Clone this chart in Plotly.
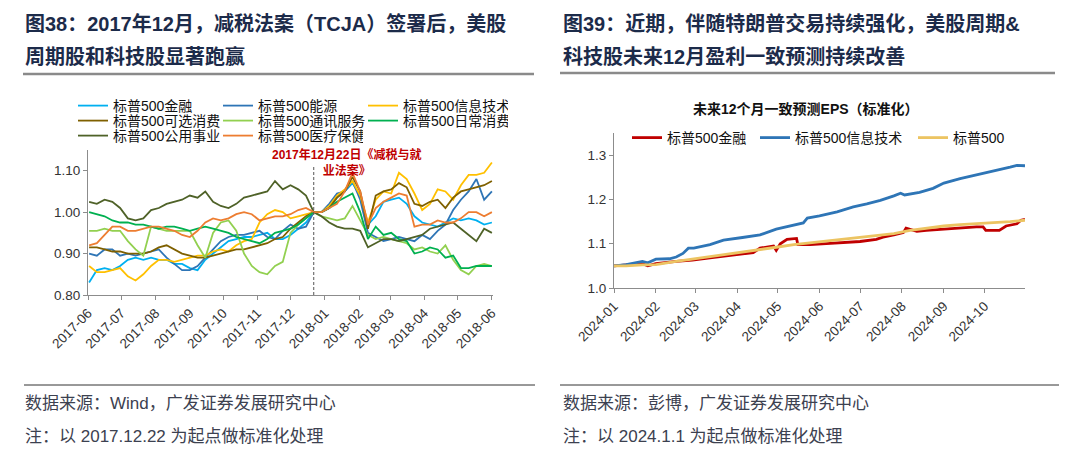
import plotly.graph_objects as go
import pandas as pd

W, H = 1080, 452
F = "Liberation Sans, Noto Sans CJK SC, sans-serif"

# ---------------- left panel data (weekly Friday closes, normalised on 2017-12-22)
left_dates = pd.date_range(start="2017-06-02", periods=53, freq="7D")
left_names = ["标普500金融", "标普500能源", "标普500信息技术",
              "标普500可选消费", "标普500通讯服务", "标普500日常消费",
              "标普500公用事业", "标普500医疗保健"]
fin_l = [0.83, 0.86, 0.865, 0.86, 0.87, 0.885, 0.89, 0.885, 0.89, 0.885,
         0.885, 0.875, 0.875, 0.865, 0.86, 0.885, 0.90, 0.915, 0.93, 0.935,
         0.94, 0.94, 0.945, 0.95, 0.935, 0.935, 0.945, 0.96, 0.975, 1.00,
         1.00, 1.01, 1.035, 1.05, 1.07, 1.04, 0.97, 0.99, 1.025, 1.03,
         1.035, 1.02, 0.99, 0.975, 0.97, 0.965, 0.975, 0.985, 0.98, 0.985,
         0.98, 0.97, 0.975]
energy = [0.90, 0.895, 0.91, 0.91, 0.895, 0.90, 0.895, 0.90, 0.905, 0.91,
          0.89, 0.875, 0.86, 0.86, 0.87, 0.89, 0.91, 0.93, 0.94, 0.945,
          0.945, 0.95, 0.955, 0.94, 0.935, 0.955, 0.97, 0.96, 0.965, 1.00,
          1.00, 1.02, 1.045, 1.05, 1.075, 1.03, 0.95, 0.94, 0.93, 0.935,
          0.94, 0.935, 0.93, 0.945, 0.935, 0.955, 0.97, 1.005, 1.03, 1.05,
          1.08, 1.03, 1.05]
tech_l = [0.87, 0.855, 0.855, 0.86, 0.865, 0.845, 0.835, 0.85, 0.87, 0.885,
          0.885, 0.88, 0.885, 0.89, 0.895, 0.895, 0.905, 0.91, 0.905, 0.92,
          0.93, 0.935, 0.975, 0.995, 1.005, 1.00, 0.985, 0.99, 0.995, 1.00,
          1.00, 1.015, 1.04, 1.055, 1.075, 1.04, 0.975, 1.03, 1.05, 1.045,
          1.095, 1.08, 1.045, 1.005, 1.02, 1.055, 1.05, 1.03, 1.065, 1.09,
          1.09, 1.095, 1.12]
discr = [0.915, 0.915, 0.91, 0.905, 0.905, 0.90, 0.90, 0.90, 0.905, 0.915,
         0.92, 0.91, 0.90, 0.895, 0.89, 0.89, 0.895, 0.90, 0.905, 0.91,
         0.91, 0.915, 0.92, 0.925, 0.935, 0.94, 0.96, 0.975, 0.99, 1.00,
         1.00, 1.01, 1.035, 1.05, 1.085, 1.05, 0.96, 1.04, 1.05, 1.055,
         1.07, 1.06, 1.02, 1.015, 1.025, 1.03, 1.01, 1.035, 1.05, 1.055,
         1.06, 1.065, 1.075]
comm = [0.955, 0.955, 0.96, 0.955, 0.955, 0.93, 0.91, 0.895, 0.965, 0.96,
        0.955, 0.955, 0.955, 0.955, 0.92, 0.89, 0.95, 0.975, 0.98, 0.955,
        0.90, 0.87, 0.855, 0.85, 0.87, 0.88, 0.95, 0.97, 0.985, 1.00,
        0.99, 0.985, 0.98, 0.985, 1.015, 0.98, 0.945, 0.935, 0.94, 0.935,
        0.93, 0.925, 0.91, 0.915, 0.905, 0.90, 0.92, 0.885, 0.86, 0.85,
        0.87, 0.875, 0.87]
staples = [1.00, 0.995, 0.99, 0.98, 0.975, 0.975, 0.97, 0.97, 0.965, 0.96,
           0.965, 0.965, 0.96, 0.955, 0.96, 0.965, 0.96, 0.955, 0.95, 0.94,
           0.935, 0.93, 0.925, 0.935, 0.95, 0.955, 0.96, 0.97, 0.985, 1.00,
           1.00, 1.01, 1.025, 1.035, 1.045, 1.00, 0.935, 0.965, 0.945, 0.95,
           0.935, 0.93, 0.90, 0.905, 0.915, 0.91, 0.89, 0.895, 0.865, 0.865,
           0.87, 0.87, 0.87]
util = [1.025, 1.02, 1.03, 1.025, 1.01, 0.985, 0.98, 0.985, 1.005, 1.01,
        1.02, 1.025, 1.03, 1.04, 1.035, 1.05, 1.025, 1.015, 1.01, 1.02,
        1.035, 1.04, 1.045, 1.05, 1.075, 1.055, 1.065, 1.055, 1.04, 1.00,
        0.99, 0.975, 0.965, 0.96, 0.96, 0.955, 0.915, 0.925, 0.935, 0.935,
        0.93, 0.935, 0.94, 0.945, 0.96, 0.965, 0.97, 0.975, 0.96, 0.945,
        0.93, 0.96, 0.95]
health = [0.92, 0.925, 0.945, 0.965, 0.965, 0.955, 0.955, 0.96, 0.965, 0.965,
          0.96, 0.955, 0.945, 0.94, 0.955, 0.975, 0.985, 0.98, 0.985, 0.995,
          1.00, 0.995, 0.98, 0.985, 0.99, 0.99, 0.995, 1.005, 1.01, 1.00,
          1.00, 1.01, 1.02, 1.05, 1.095, 1.05, 0.97, 1.01, 1.025, 1.035,
          1.045, 1.04, 0.965, 0.97, 0.97, 0.98, 0.975, 0.975, 0.985, 1.00,
          1.00, 0.99, 1.00]
left_series = [fin_l, energy, tech_l, discr, comm, staples, util, health]
left_colors = ["#00b0f0", "#2e75b6", "#ffc000", "#7f6000",
               "#92d050", "#00b050", "#4f6228", "#ed7d31"]
left_legend_ids = ["legend", "legend", "legend", "legend2", "legend2", "legend2",
                   "legend3", "legend3"]

# ---------------- right panel data (forward 12m consensus EPS, normalised 2024-01-01)
right_names = ["标普500金融", "标普500信息技术", "标普500"]
fin_r_dates = ["2024-01-01", "2024-01-10", "2024-01-22", "2024-01-26", "2024-02-01",
               "2024-02-16", "2024-02-28", "2024-03-12", "2024-03-24", "2024-04-05",
               "2024-04-13", "2024-04-18", "2024-04-28", "2024-04-30", "2024-05-03",
               "2024-05-08", "2024-05-15", "2024-05-16", "2024-05-25", "2024-06-06",
               "2024-06-19", "2024-07-01", "2024-07-13", "2024-07-18", "2024-07-26",
               "2024-08-02", "2024-08-04", "2024-08-12", "2024-08-19", "2024-09-01",
               "2024-09-13", "2024-09-25", "2024-09-30", "2024-10-02", "2024-10-12",
               "2024-10-17", "2024-10-25", "2024-10-28", "2024-10-31"]
fin_r = [1.050, 1.052, 1.055, 1.050, 1.055, 1.060, 1.063, 1.068, 1.072, 1.077,
         1.080, 1.090, 1.095, 1.085, 1.100, 1.110, 1.112, 1.098, 1.098, 1.100,
         1.102, 1.105, 1.110, 1.115, 1.120, 1.125, 1.135, 1.128, 1.130, 1.133,
         1.135, 1.138, 1.138, 1.130, 1.130, 1.140, 1.145, 1.153, 1.155]
tech_r_dates = ["2024-01-01", "2024-01-10", "2024-01-22", "2024-01-26", "2024-02-01",
                "2024-02-11", "2024-02-16", "2024-02-21", "2024-02-25", "2024-02-29",
                "2024-03-12", "2024-03-22", "2024-04-05", "2024-04-18", "2024-04-30",
                "2024-05-06", "2024-05-13", "2024-05-20", "2024-05-23", "2024-06-01",
                "2024-06-14", "2024-06-26", "2024-07-06", "2024-07-16", "2024-07-26",
                "2024-07-31", "2024-08-03", "2024-08-14", "2024-08-24", "2024-09-01",
                "2024-09-13", "2024-09-25", "2024-10-08", "2024-10-20", "2024-10-25",
                "2024-10-31"]
tech_r = [1.050, 1.053, 1.060, 1.057, 1.065, 1.066, 1.070, 1.078, 1.090, 1.090,
          1.098, 1.108, 1.114, 1.120, 1.133, 1.137, 1.142, 1.147, 1.158, 1.163,
          1.172, 1.183, 1.190, 1.198, 1.208, 1.214, 1.210, 1.216, 1.225, 1.237,
          1.247, 1.255, 1.265, 1.273, 1.277, 1.276]
spx_dates = ["2024-01-01", "2024-01-10", "2024-01-22", "2024-02-01", "2024-02-16",
             "2024-02-28", "2024-03-12", "2024-03-24", "2024-04-05", "2024-04-18",
             "2024-04-30", "2024-05-13", "2024-05-25", "2024-06-06", "2024-06-19",
             "2024-07-01", "2024-07-13", "2024-07-26", "2024-08-07", "2024-08-19",
             "2024-09-01", "2024-09-13", "2024-09-25", "2024-10-08", "2024-10-20",
             "2024-10-31"]
spx = [1.050, 1.050, 1.052, 1.053, 1.060, 1.065, 1.070, 1.075, 1.080, 1.086,
       1.092, 1.098, 1.102, 1.106, 1.110, 1.115, 1.118, 1.123, 1.130, 1.135,
       1.140, 1.143, 1.145, 1.147, 1.150, 1.153]
right_colors = ["#c00000", "#2e75b6", "#ecc462"]

# ---------------- figure
fig = go.Figure()
for name, vals, col, lg in zip(left_names, left_series, left_colors, left_legend_ids):
    fig.add_trace(go.Scatter(x=left_dates, y=vals, name=name, mode="lines",
                             line=dict(color=col, width=1.8), xaxis="x", yaxis="y",
                             legend=lg, legendwidth=100))

right_data = [(fin_r_dates, fin_r, 83), (tech_r_dates, tech_r, 113), (spx_dates, spx, 80)]
for name, (d, v, lw), col in zip(right_names, right_data, right_colors):
    fig.add_trace(go.Scatter(x=d, y=v, name=name, mode="lines",
                             line=dict(color=col, width=2.8), xaxis="x2", yaxis="y2",
                             legend="legend4", legendwidth=lw))


def px(x):
    return x / W


def py(y):
    return 1 - y / H


axis_common = dict(showline=True, linecolor="#8c8c8c", linewidth=1, ticks="outside",
                   ticklen=4, tickcolor="#8c8c8c", showgrid=False, zeroline=False,
                   automargin=False,
                   tickfont=dict(size=13.5, family=F, color="#333333"))

leg_common = dict(orientation="h", xanchor="left", yanchor="middle",
                  font=dict(size=14, family=F, color="#111111"),
                  bgcolor="rgba(0,0,0,0)", borderwidth=0, itemwidth=30,
                  tracegroupgap=0, itemclick=False, itemdoubleclick=False)

fig.update_layout(
    template="none",
    width=W, height=H, margin=dict(l=0, r=0, t=0, b=0, autoexpand=False),
    paper_bgcolor="white", plot_bgcolor="white",
    xaxis=dict(domain=[px(88), px(493)], anchor="y", type="date",
               range=["2017-06-01", "2018-06-02"], tick0="2017-06-01", dtick="M1",
               tickformat="%Y-%m", tickangle=-45, **axis_common),
    yaxis=dict(domain=[py(295), py(150)], anchor="x", range=[0.80, 1.15],
               tick0=0.8, dtick=0.1, tickformat=".2f", **axis_common),
    xaxis2=dict(domain=[px(614), px(1025)], anchor="y2", type="date",
                range=["2024-01-01", "2024-10-31"], tick0="2024-01-01", dtick="M1",
                tickformat="%Y-%m", tickangle=-45, **axis_common),
    yaxis2=dict(domain=[py(288), py(133)], anchor="x2", range=[1.0, 1.35],
                tick0=1.0, dtick=0.1, tickformat=".1f", **axis_common),
    legend=dict(x=px(73), y=py(106), **leg_common),
    legend2=dict(x=px(73), y=py(121), **leg_common),
    legend3=dict(x=px(73), y=py(136), **leg_common),
    legend4=dict(x=px(627), y=py(138), **leg_common),
    showlegend=True,
)

title_color = "#1c2b4a"
annos = [
    dict(text="图38：2017年12月，减税法案（TCJA）签署后，美股", x=px(23), y=py(24)),
    dict(text="周期股和科技股显著跑赢", x=px(23), y=py(57)),
    dict(text="图39：近期，伴随特朗普交易持续强化，美股周期&", x=px(561), y=py(24)),
    dict(text="科技股未来12月盈利一致预测持续改善", x=px(561), y=py(57)),
]
for a in annos:
    fig.add_annotation(xref="paper", yref="paper", xanchor="left", yanchor="middle",
                       showarrow=False, font=dict(size=20, family=F, color=title_color,
                                                  weight="bold"), **a)

foot = [
    dict(text="数据来源：Wind，广发证券发展研究中心", x=px(23), y=py(403)),
    dict(text="注：以 2017.12.22 为起点做标准化处理", x=px(23), y=py(436)),
    dict(text="数据来源：彭博，广发证券发展研究中心", x=px(561), y=py(403)),
    dict(text="注：以 2024.1.1 为起点做标准化处理", x=px(561), y=py(436)),
]
for a in foot:
    fig.add_annotation(xref="paper", yref="paper", xanchor="left", yanchor="middle",
                       showarrow=False, font=dict(size=17, family=F, color="#3c4150"), **a)

fig.add_annotation(xref="paper", yref="paper", x=px(346), y=py(162), xanchor="center",
                   yanchor="middle", showarrow=False, align="center",
                   text="2017年12月22日《减税与就<br>业法案》",
                   font=dict(size=12, family=F, color="#c00000", weight="bold"))
fig.add_annotation(xref="paper", yref="paper", x=px(806), y=py(109), xanchor="center",
                   yanchor="middle", showarrow=False,
                   text="未来12个月一致预测EPS（标准化）",
                   font=dict(size=14, family=F, color="#111111", weight="bold"))

shapes = [
    dict(type="line", xref="paper", yref="paper", x0=px(23), x1=px(534), y0=py(74), y1=py(74),
         line=dict(color="#8a8a8a", width=2.5)),
    dict(type="line", xref="paper", yref="paper", x0=px(560), x1=px(1055), y0=py(73), y1=py(73),
         line=dict(color="#8a8a8a", width=2.5)),
    dict(type="line", xref="paper", yref="paper", x0=px(24), x1=px(535), y0=py(385), y1=py(385),
         line=dict(color="#333333", width=1)),
    dict(type="line", xref="paper", yref="paper", x0=px(560), x1=px(1059), y0=py(385), y1=py(385),
         line=dict(color="#333333", width=1)),
    dict(type="line", xref="x", yref="y", x0="2017-12-22", x1="2017-12-22", y0=0.80, y1=1.113,
         line=dict(color="#555555", width=1, dash="3px,2px")),
]
fig.update_layout(shapes=shapes)

fig.write_html("out.html", config={"displayModeBar": False},
               post_script="document.body.style.margin='0';")
